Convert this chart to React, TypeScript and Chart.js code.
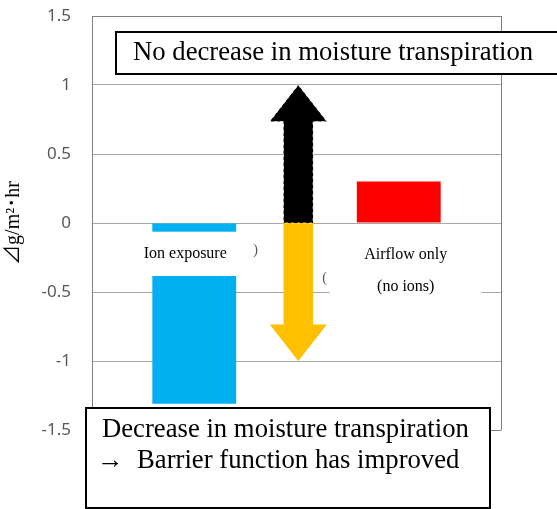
import React, { useEffect, useRef } from 'react';
import { Chart, registerables } from 'chart.js';

Chart.register(...registerables);

// ---- data ----
const categories = ['', 'Ion exposure', '', 'Airflow only', ''];
const barValues: (number | null)[] = [null, -1.31, null, 0.3, null];
const barColors = ['rgba(0,0,0,0)', '#00B0F0', 'rgba(0,0,0,0)', '#FF0000', 'rgba(0,0,0,0)'];
const arrowIndex = [2, 2];
const arrowFrom = [0.012, 0];
const arrowTo = [-1.0, 1.0];
const arrowColors = ['#FFC000', '#000000'];
const yTickValues = [-1.5, -1, -0.5, 0, 0.5, 1, 1.5];
const yTickLabels = ['-1.5', '-1', '-0.5', '0', '0.5', '1', '1.5'];
const yTitle = '⊿g/m²･hr';
const topNote = 'No decrease in moisture transpiration';
const bottomNote = ['Decrease in moisture transpiration', '→  Barrier function has improved'];
const ionLabel = ['Ion exposure'];
const airLabel = ['Airflow only', '(no ions)'];

const SERIF = "'Liberation Serif', 'Times New Roman', serif";

function drawArrow(ctx: CanvasRenderingContext2D, x: number, y0: number, y1: number, shaftHalf: number, headHalf: number, headLen: number, color: string, dashed: boolean) {
  const dir = y1 < y0 ? -1 : 1;
  const hb = y1 - dir * headLen;
  ctx.beginPath();
  ctx.moveTo(x - shaftHalf, y0);
  ctx.lineTo(x - shaftHalf, hb);
  ctx.lineTo(x - headHalf, hb);
  ctx.lineTo(x, y1);
  ctx.lineTo(x + headHalf, hb);
  ctx.lineTo(x + shaftHalf, hb);
  ctx.lineTo(x + shaftHalf, y0);
  ctx.closePath();
  ctx.fillStyle = color;
  ctx.fill();
  if (dashed) {
    ctx.save();
    ctx.setLineDash([3, 3]);
    ctx.strokeStyle = 'rgba(255,255,255,0.7)';
    ctx.lineWidth = 1;
    ctx.stroke();
    ctx.restore();
  }
}

const overlay = {
  id: 'overlay',
  beforeDatasetsDraw(chart: any) {
    const { ctx, chartArea: a } = chart;
    ctx.save();
    ctx.strokeStyle = '#808080';
    ctx.lineWidth = 1;
    ctx.beginPath();
    ctx.moveTo(Math.round(a.right) + 0.5, a.top);
    ctx.lineTo(Math.round(a.right) + 0.5, a.bottom);
    ctx.stroke();
    ctx.restore();
  },
  afterDatasetsDraw(chart: any) {
    const { ctx } = chart;
    const xs = chart.scales.x;
    const ys = chart.scales.y;
    ctx.save();
    // label box for Ion exposure
    const ix = xs.getPixelForValue(1);
    const iTop = ys.getPixelForValue(-0.063);
    const iBot = ys.getPixelForValue(-0.384);
    ctx.fillStyle = '#ffffff';
    ctx.fillRect(ix - 55, iTop, 110, iBot - iTop);
    ctx.fillStyle = '#000000';
    ctx.font = `16px ${SERIF}`;
    ctx.textAlign = 'center';
    ctx.textBaseline = 'middle';
    ctx.fillText(ionLabel[0], ix - 9, ys.getPixelForValue(-0.225));
    // label box for Airflow only
    const ax = xs.getPixelForValue(3);
    const aTop = ys.getPixelForValue(-0.063);
    const aBot = ys.getPixelForValue(-0.53);
    ctx.fillStyle = '#ffffff';
    ctx.fillRect(ax - 69, aTop, 152, aBot - aTop);
    ctx.fillStyle = '#000000';
    ctx.fillText(airLabel[0], ax + 7, ys.getPixelForValue(-0.228));
    ctx.fillText(airLabel[1], ax + 7, ys.getPixelForValue(-0.465));
    // stray fragments
    ctx.fillStyle = '#555555';
    ctx.font = `14px ${SERIF}`;
    ctx.fillText(')', xs.getPixelForValue(2) - 41, ys.getPixelForValue(-0.2));
    ctx.fillText('(', xs.getPixelForValue(2) + 28, ys.getPixelForValue(-0.4));
    // arrows
    for (let i = 0; i < arrowIndex.length; i++) {
      const x = xs.getPixelForValue(arrowIndex[i]) + 1.8;
      const y0 = ys.getPixelForValue(arrowFrom[i]);
      const y1 = ys.getPixelForValue(arrowTo[i]);
      drawArrow(ctx, x, y0, y1, 14.8, 28.5, 36.5, arrowColors[i], arrowColors[i] === '#000000');
    }
    ctx.restore();
  },
  afterDraw(chart: any) {
    const { ctx } = chart;
    ctx.save();
    ctx.lineWidth = 2;
    ctx.strokeStyle = '#000000';
    // top note
    ctx.fillStyle = '#ffffff';
    ctx.fillRect(116, 32, 450, 42);
    ctx.strokeRect(116, 32, 450, 42);
    ctx.fillStyle = '#000000';
    ctx.font = `26.7px ${SERIF}`;
    ctx.textAlign = 'left';
    ctx.textBaseline = 'middle';
    ctx.fillText(topNote, 133, 53);
    // bottom note
    ctx.fillStyle = '#ffffff';
    ctx.fillRect(86, 408, 404, 100);
    ctx.strokeRect(86, 408, 404, 100);
    ctx.fillStyle = '#000000';
    ctx.fillText(bottomNote[0], 102, 430);
    ctx.fillText(bottomNote[1], 97, 461);
    ctx.restore();
  },
};

export default function App() {
  const ref = useRef<HTMLCanvasElement | null>(null);
  useEffect(() => {
    if (!ref.current) return;
    const chart = new Chart(ref.current, {
      type: 'bar',
      data: {
        labels: categories,
        datasets: [
          {
            data: barValues as any,
            backgroundColor: barColors,
            borderWidth: 0,
            categoryPercentage: 0.82,
            barPercentage: 1,
          },
        ],
      },
      options: {
        animation: false,
        responsive: true,
        maintainAspectRatio: false,
        devicePixelRatio: 1,
        layout: { padding: { left: 0, right: 56, top: 16, bottom: 79 } },
        plugins: { legend: { display: false }, tooltip: { enabled: false } },
        scales: {
          x: { type: 'category', display: false, offset: false },
          y: {
            min: -1.5,
            max: 1.5,
            afterFit: (s: any) => {
              s.width = 92;
              s.paddingTop = 0;
              s.paddingBottom = 0;
            },
            afterBuildTicks: (s: any) => { s.ticks = yTickValues.map((v) => ({ value: v })); },
            ticks: {
              padding: 21,
              color: '#595959',
              font: { family: "'Noto Sans', sans-serif", size: 17 },
              callback: (v: any) => {
                const i = yTickValues.indexOf(Number(v));
                return i >= 0 ? yTickLabels[i] : '';
              },
            },
            grid: {
              drawTicks: false,
              color: (c: any) => (c.tick && Math.abs(c.tick.value) === 1.5 ? '#808080' : '#a6a6a6'),
              lineWidth: 1,
            },
            border: { display: true, color: '#808080', width: 1 },
            title: {
              display: true,
              text: yTitle,
              color: '#000000',
              font: { family: "'Liberation Serif', 'Noto Sans CJK JP', serif", size: 20 },
              padding: { top: 2, bottom: 0 },
            },
          },
        },
      },
      plugins: [overlay],
    });
    return () => chart.destroy();
  }, []);
  return (
    <div style={{ position: 'absolute', left: 0, top: 0, width: 557, height: 509, background: '#ffffff' }}>
      <canvas ref={ref} />
    </div>
  );
}
